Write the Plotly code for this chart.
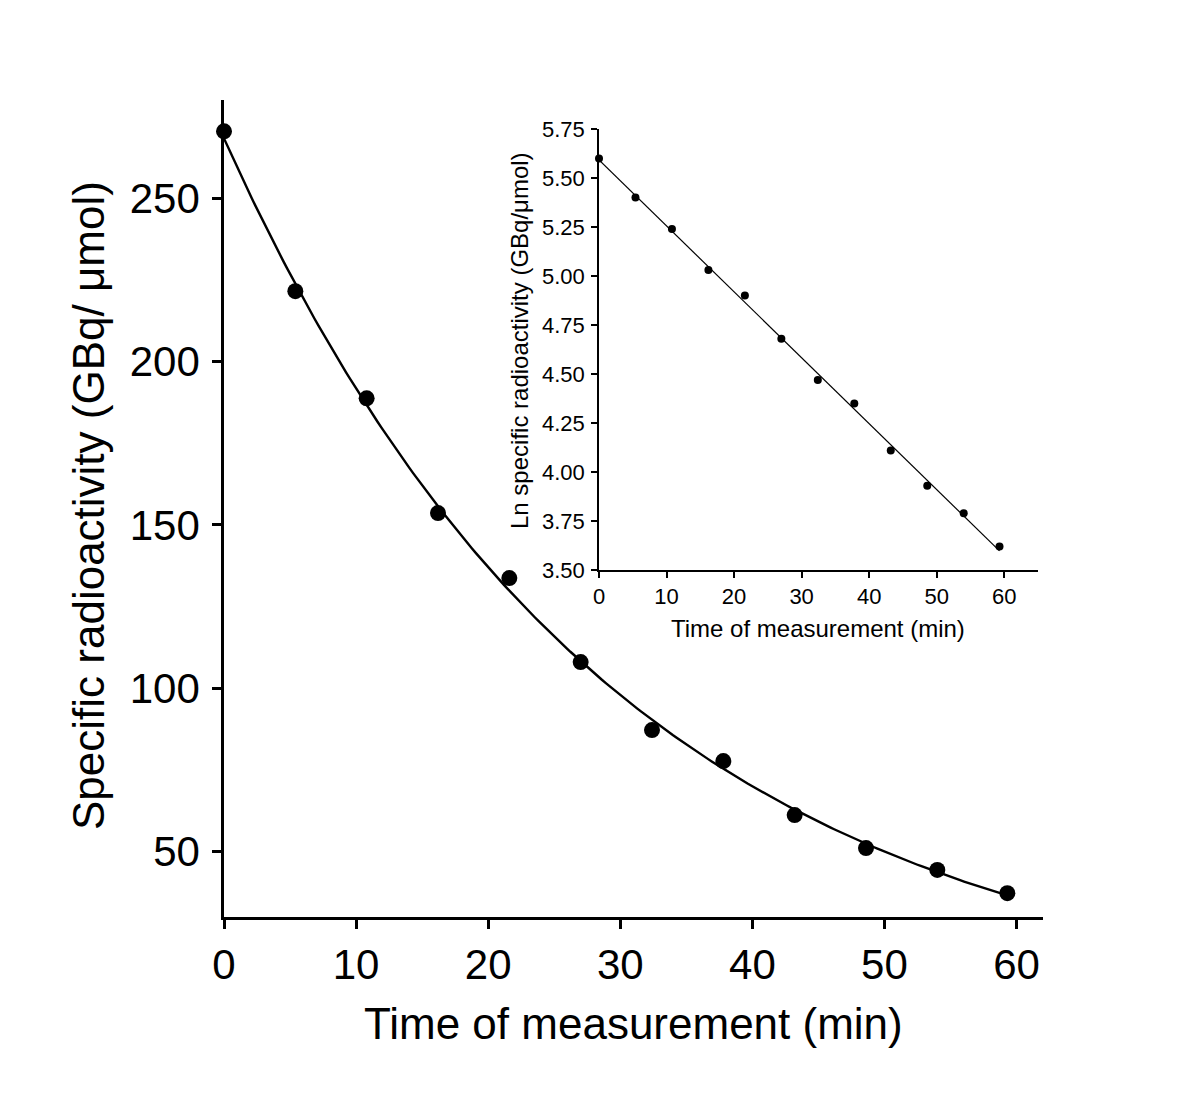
import numpy as np
import plotly.graph_objects as go

# ---- data ----
time_min = [0.0, 5.4, 10.8, 16.2, 21.6, 27.0, 32.4, 37.8, 43.2, 48.6, 54.0, 59.3]
specific_activity = [270.4, 221.5, 188.7, 153.6, 133.7, 108.0, 87.2, 77.7, 61.2, 51.1, 44.4, 37.3]
ln_activity = [5.60, 5.40, 5.24, 5.03, 4.90, 4.68, 4.47, 4.35, 4.11, 3.93, 3.79, 3.62]

main_xticks = [0, 10, 20, 30, 40, 50, 60]
main_yticks = [50, 100, 150, 200, 250]
inset_xticks = [0, 10, 20, 30, 40, 50, 60]
inset_yticks = [3.50, 3.75, 4.00, 4.25, 4.50, 4.75, 5.00, 5.25, 5.50, 5.75]

# ---- fits (log-linear regression of the data) ----
slope_main, icpt_main = np.polyfit(time_min, np.log(specific_activity), 1)
slope_in, icpt_in = np.polyfit(time_min, ln_activity, 1)
t_fit = np.linspace(min(time_min), max(time_min), 200)
main_fit = np.exp(icpt_main) * np.exp(slope_main * t_fit)
inset_fit = icpt_in + slope_in * t_fit

FONT = "Liberation Sans, Arial, sans-serif"
W, H = 1200, 1109
OFF = 8  # default page body margin

def px_x(p):
    return (p - OFF) / W

def px_y(p):
    return 1 - (p - OFF) / H

fig = go.Figure()

fig.add_trace(go.Scatter(x=t_fit, y=main_fit, mode="lines",
                         line=dict(color="black", width=2.4),
                         xaxis="x", yaxis="y", cliponaxis=False, hoverinfo="skip"))
fig.add_trace(go.Scatter(x=time_min, y=specific_activity, mode="markers",
                         marker=dict(color="black", size=16),
                         xaxis="x", yaxis="y", cliponaxis=False))
fig.add_trace(go.Scatter(x=t_fit, y=inset_fit, mode="lines",
                         line=dict(color="black", width=1.2),
                         xaxis="x2", yaxis="y2", cliponaxis=False, hoverinfo="skip"))
fig.add_trace(go.Scatter(x=time_min, y=ln_activity, mode="markers",
                         marker=dict(color="black", size=8),
                         xaxis="x2", yaxis="y2", cliponaxis=False))

main_left, main_right, main_top, main_bottom = 224, 1043, 100, 917
in_left, in_right, in_top, in_bottom = 599, 1038, 129, 570

axis_common = dict(showline=True, linecolor="black", showgrid=False, zeroline=False,
                   ticks="outside", tickcolor="black", color="black", automargin=False)

fig.update_layout(
    template="none",
    width=W, height=H,
    margin=dict(l=0, r=0, t=0, b=0, autoexpand=False),
    paper_bgcolor="white", plot_bgcolor="rgba(0,0,0,0)",
    showlegend=False,
    font=dict(family=FONT, color="black"),
    xaxis=dict(domain=[px_x(main_left), px_x(main_right)], range=[0, 62],
               tickvals=main_xticks, ticklen=9, tickwidth=2.5, linewidth=2.5,
               tickfont=dict(size=42, family=FONT), anchor="y", **axis_common),
    yaxis=dict(domain=[px_y(main_bottom), px_y(main_top)], range=[30, 280],
               tickvals=main_yticks, ticklen=9, tickwidth=2.5, linewidth=2.5,
               ticklabelstandoff=4,
               tickfont=dict(size=42, family=FONT), anchor="x", **axis_common),
    xaxis2=dict(domain=[px_x(in_left), px_x(in_right)], range=[0, 65],
                tickvals=inset_xticks, ticklen=6, tickwidth=1.5, linewidth=1.5,
                tickfont=dict(size=22, family=FONT), anchor="y2", **axis_common),
    yaxis2=dict(domain=[px_y(in_bottom), px_y(in_top)], range=[3.5, 5.75],
                tickvals=inset_yticks, tickformat=".2f", ticklen=6, tickwidth=1.5, linewidth=1.5,
                ticklabelstandoff=2,
                tickfont=dict(size=22, family=FONT), anchor="x2", **axis_common),
)

annotations = [
    dict(text="Time of measurement (min)", x=px_x(633), y=px_y(1023), xref="paper", yref="paper",
         showarrow=False, xanchor="center", yanchor="middle", font=dict(size=44, family=FONT)),
    dict(text="Specific radioactivity (GBq/ \u03bcmol)", x=px_x(88), y=px_y(506), xref="paper", yref="paper",
         showarrow=False, xanchor="center", yanchor="middle", textangle=-90, font=dict(size=44, family=FONT)),
    dict(text="Time of measurement (min)", x=px_x(818), y=px_y(628), xref="paper", yref="paper",
         showarrow=False, xanchor="center", yanchor="middle", font=dict(size=24, family=FONT)),
    dict(text="Ln specific radioactivity (GBq/\u03bcmol)", x=px_x(519), y=px_y(341), xref="paper", yref="paper",
         showarrow=False, xanchor="center", yanchor="middle", textangle=-90, font=dict(size=24, family=FONT)),
]
fig.update_layout(annotations=annotations)

fig.write_html("out.html")
